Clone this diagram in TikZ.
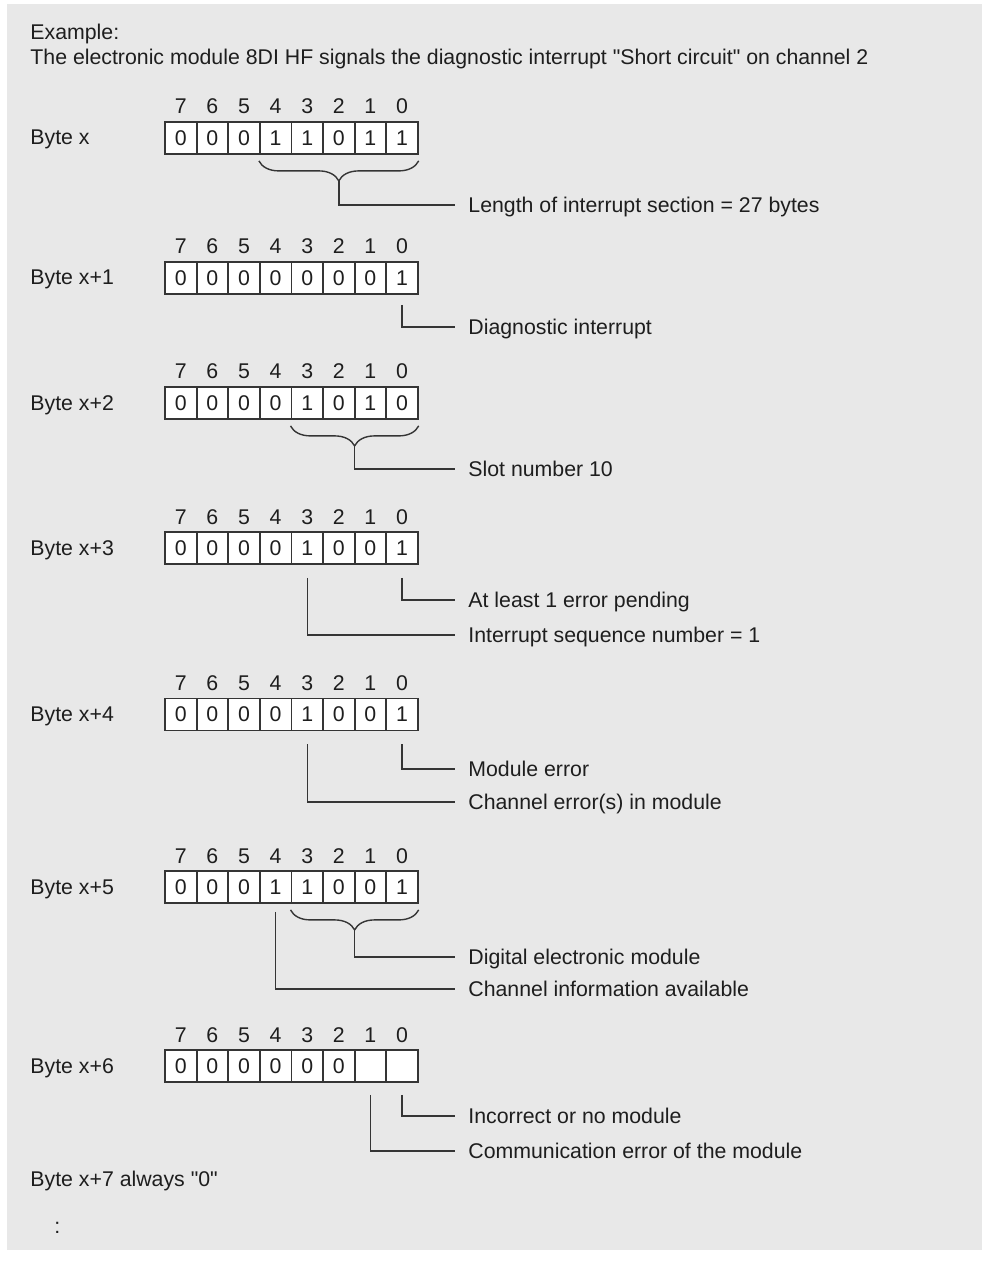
\documentclass[tikz,border=0pt]{standalone}
\usepackage{fontspec}
\setmainfont{Liberation Sans}
\usetikzlibrary{calc,decorations.pathreplacing}
\definecolor{panel}{HTML}{E8E8E8}
\definecolor{ink}{HTML}{1E1E1E}

% one byte: name, y of the boxes, label, bits 7..0
\newcommand{\byterow}[4]{%
  \node[bytelbl] (#1) at (30,#2+7) {#3};
  \foreach \bv [count=\k from 0] in {#4} {
    \pgfmathtruncatemacro{\bitno}{7-\k}
    \node[bitcell] (#1c\bitno) at ({180.8+31.6*\k},#2) {\bv};
    \node[bitnum] (#1n\bitno) at ({180.8+31.6*\k},#2-24) {\bitno};
  }%
}

\begin{document}
\begin{tikzpicture}[x=0.5pt,y=-0.5pt,
  font=\fontsize{10.65pt}{13pt}\selectfont, text=ink,
  bitcell/.style={draw=ink!90,line width=0.9pt,fill=white,minimum width=15.8pt,minimum height=16pt,inner sep=0pt},
  bitnum/.style={anchor=base,inner sep=0pt},
  bytelbl/.style={anchor=base west,inner sep=0pt},
  txt/.style={anchor=base west,inner sep=0pt},
  lbl/.style={anchor=west,inner xsep=6.5pt,inner ysep=0pt,text height=0.72em,text depth=0pt},
  conn/.style={draw=ink!90,line width=0.7pt},
  bracket/.style={draw=ink!90,line width=0.7pt,decorate,decoration={brace,mirror,amplitude=10pt}}]
% Background
\useasboundingbox (0,0) rectangle (982,1261);
\fill[panel] (7,4) rectangle (982,1250);
% Heading
\node[txt] (head) at (30,40) {Example:};
\node[txt] (intro) at (30,65) {The electronic module 8DI HF signals the diagnostic interrupt \textquotedbl Short circuit\textquotedbl{} on channel 2};
% Bytes
\byterow{b0}{138}{Byte x}{0,0,0,1,1,0,1,1}
\byterow{b1}{278}{Byte x+1}{0,0,0,0,0,0,0,1}
\byterow{b2}{403}{Byte x+2}{0,0,0,0,1,0,1,0}
\byterow{b3}{548}{Byte x+3}{0,0,0,0,1,0,0,1}
\byterow{b4}{714.5}{Byte x+4}{0,0,0,0,1,0,0,1}
\byterow{b5}{887}{Byte x+5}{0,0,0,1,1,0,0,1}
\byterow{b6}{1066}{Byte x+6}{0,0,0,0,0,0,{},{}}
% Meanings
\node[lbl] (len) at (455,205) {Length of interrupt section = 27 bytes};
\node[lbl] (diag) at (455,327) {Diagnostic interrupt};
\node[lbl] (slot) at (455,469) {Slot number 10};
\node[lbl] (pend) at (455,600) {At least 1 error pending};
\node[lbl] (seq) at (455,635) {Interrupt sequence number = 1};
\node[lbl] (moderr) at (455,769) {Module error};
\node[lbl] (chnerr) at (455,802) {Channel error(s) in module};
\node[lbl] (digmod) at (455,957) {Digital electronic module};
\node[lbl] (chninfo) at (455,989) {Channel information available};
\node[lbl] (nomod) at (455,1116) {Incorrect or no module};
\node[lbl] (comerr) at (455,1151) {Communication error of the module};
% Braces
\draw[bracket] ($(b0c4.south west)+(0,6)$) -- ($(b0c0.south east)+(0,6)$);
\coordinate (b0tip) at ($(b0c4.south west)!0.5!(b0c0.south east)+(0,26)$);
\draw[bracket] ($(b2c3.south west)+(0,6)$) -- ($(b2c0.south east)+(0,6)$);
\coordinate (b2tip) at ($(b2c3.south west)!0.5!(b2c0.south east)+(0,26)$);
\draw[bracket] ($(b5c3.south west)+(0,6)$) -- ($(b5c0.south east)+(0,6)$);
\coordinate (b5tip) at ($(b5c3.south west)!0.5!(b5c0.south east)+(0,26)$);
% Connectors
\draw[conn] (b0tip) |- (len.west);
\draw[conn] ($(b1c0.south)+(0,10)$) |- (diag.west);
\draw[conn] (b2tip) |- (slot.west);
\draw[conn] ($(b3c0.south)+(0,13)$) |- (pend.west);
\draw[conn] ($(b3c3.south)+(0,13)$) |- (seq.west);
\draw[conn] ($(b4c0.south)+(0,13)$) |- (moderr.west);
\draw[conn] ($(b4c3.south)+(0,13)$) |- (chnerr.west);
\draw[conn] (b5tip) |- (digmod.west);
\draw[conn] ($(b5c4.south)+(0,8)$) |- (chninfo.west);
\draw[conn] ($(b6c0.south)+(0,12)$) |- (nomod.west);
\draw[conn] ($(b6c1.south)+(0,12)$) |- (comerr.west);
% Tail
\node[txt] (b7) at (30,1186) {Byte x+7 always \textquotedbl 0\textquotedbl};
\node[txt] (more) at (54,1233) {:};
\end{tikzpicture}
\end{document}
